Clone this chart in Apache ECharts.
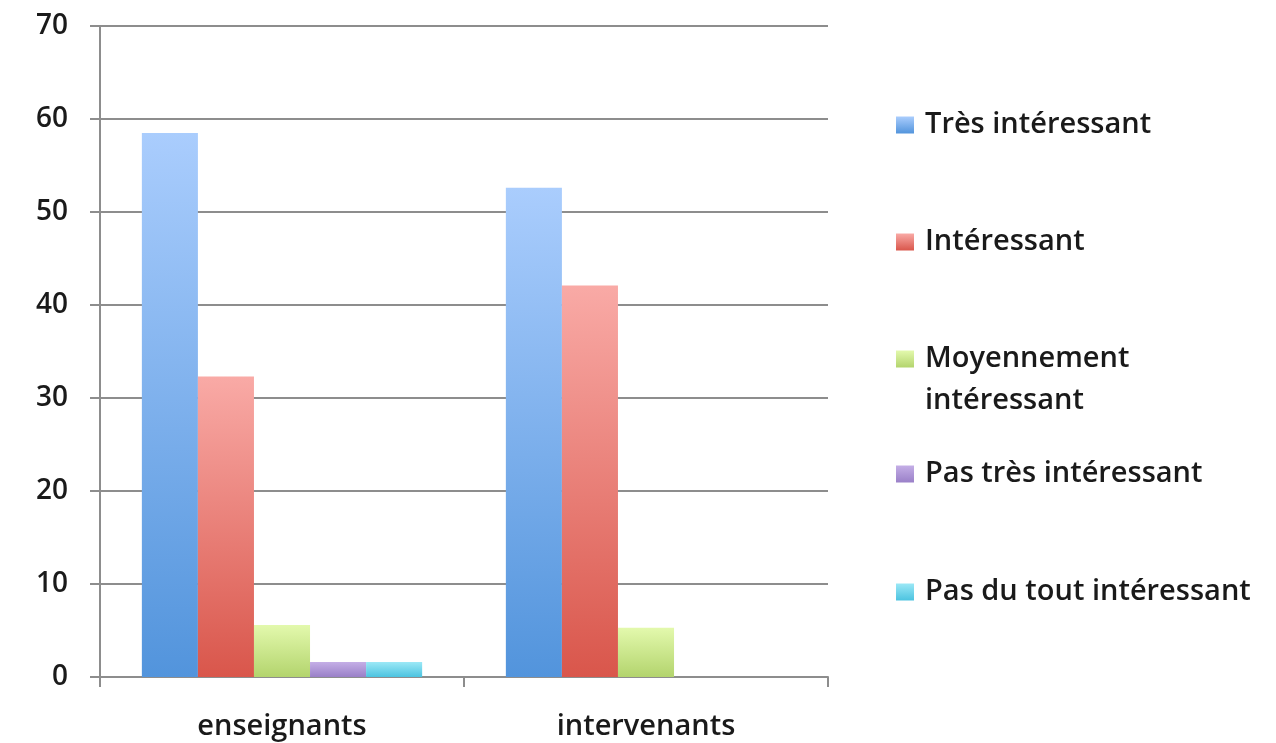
<!DOCTYPE html>
<html>
<head>
<meta charset="utf-8">
<script src="https://cdn.jsdelivr.net/npm/echarts@6/dist/echarts.min.js"></script>
<style>
  html, body { margin: 0; padding: 0; background: #fff; }
  #chart { width: 1276px; height: 743px; }
</style>
</head>
<body>
<div id="chart"></div>
<script>
// Groups and answer levels
const categories = ['enseignants', 'intervenants'];
const seriesNames = [
  'Très intéressant',
  'Intéressant',
  'Moyennement intéressant',
  'Pas très intéressant',
  'Pas du tout intéressant'
];
// Percentages per answer level, one value per group
const tresInteressant = [58.5, 52.6];
const interessant = [32.3, 42.1];
const moyennement = [5.6, 5.3];
const pasTres = [1.6, 0];
const pasDuTout = [1.6, 0];
const yTicks = [0, 10, 20, 30, 40, 50, 60, 70];

const values = [tresInteressant, interessant, moyennement, pasTres, pasDuTout];
// top (light) and bottom (deep) colour of each bar gradient
const palette = [
  ['#aacdfd', '#5294dc'],
  ['#f9aaa6', '#d9564b'],
  ['#e3f9ad', '#b3d46d'],
  ['#c4aee6', '#9a80c8'],
  ['#9be8f6', '#4cc3e0']
];

const FONT = 'Open Sans';
const FSIZE = 29;
const WEIGHT = 600;
const TEXT = '#1a1a1a';
const LINE = '#8d8d8d';

function grad(c) {
  return new echarts.graphic.LinearGradient(0, 0, 0, 1, [
    { offset: 0, color: c[0] },
    { offset: 1, color: c[1] }
  ]);
}

// the two-line item gets a leading blank line so its swatch sits beside the first line
const legendTops = [104, 221, 296, 453, 571];
const legends = seriesNames.map((name, i) => ({
  data: [name],
  left: 896,
  top: legendTops[i],
  padding: 0,
  itemWidth: 18,
  itemHeight: 17,
  selectedMode: false,
  icon: 'rect',
  formatter: n => n === 'Moyennement intéressant' ? '\nMoyennement\nintéressant' : n,
  textStyle: {
    fontFamily: FONT,
    fontSize: FSIZE,
    fontWeight: WEIGHT,
    color: TEXT,
    lineHeight: 42,
    padding: [0, 0, 0, 6]
  }
}));

const chart = echarts.init(document.getElementById('chart'), null, { renderer: 'canvas' });
chart.setOption({
  animation: false,
  backgroundColor: '#ffffff',
  legend: legends,
  grid: { left: 100, right: 448, top: 26, bottom: 66, containLabel: false },
  xAxis: {
    type: 'category',
    data: categories,
    axisLine: { show: true, lineStyle: { color: LINE, width: 2 } },
    axisTick: { show: true, length: 10, alignWithLabel: false, lineStyle: { color: LINE, width: 2 } },
    axisLabel: { fontFamily: FONT, fontSize: FSIZE, fontWeight: WEIGHT, color: TEXT, margin: 35 },
    splitLine: { show: false }
  },
  yAxis: {
    type: 'value',
    min: yTicks[0],
    max: yTicks[yTicks.length - 1],
    interval: 10,
    axisLine: { show: true, lineStyle: { color: LINE, width: 2 } },
    axisTick: { show: true, length: 10, lineStyle: { color: LINE, width: 2 } },
    axisLabel: { fontFamily: FONT, fontSize: 28, fontWeight: WEIGHT, color: TEXT, margin: 32 },
    splitLine: { show: true, lineStyle: { color: LINE, width: 2 } }
  },
  series: seriesNames.map((name, i) => ({
    name: name,
    type: 'bar',
    data: values[i],
    barGap: '0%',
    barCategoryGap: '23%',
    itemStyle: { color: grad(palette[i]) }
  }))
});
</script>
</body>
</html>
